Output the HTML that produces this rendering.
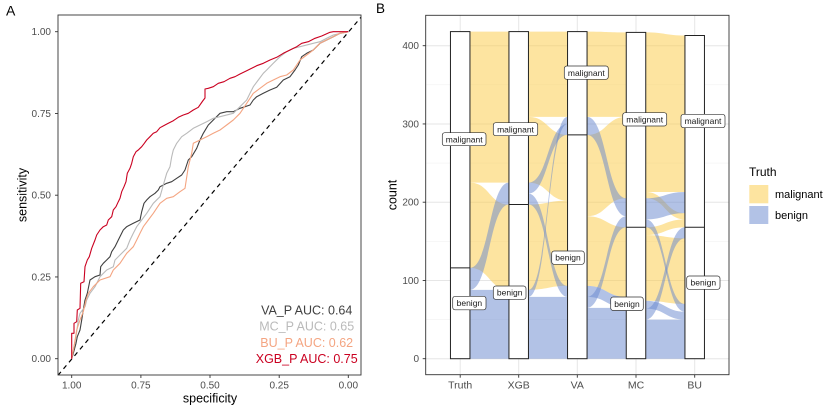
<!DOCTYPE html>
<html><head><meta charset="utf-8"><style>
html,body{margin:0;padding:0;background:#fff;}
svg{display:block;font-family:"Liberation Sans",Arial,sans-serif;}
</style></head><body>
<svg width="825" height="410" viewBox="0 0 825 410" xmlns="http://www.w3.org/2000/svg">
<rect width="825" height="410" fill="#fff"/>

<!-- ===== Panel A ===== -->
<text x="6" y="15.5" font-size="14" fill="#000">A</text>
<defs><clipPath id="cpA"><rect x="58" y="15" width="303" height="360"/></clipPath></defs>
<g clip-path="url(#cpA)" fill="none" stroke-width="1.1" stroke-linejoin="round">
<line x1="58" y1="375.3" x2="361" y2="17.2" stroke="#000" stroke-width="1.2" stroke-dasharray="4.5,4"/>
<polyline stroke="#404040" points="71.7,358.7 73.3,353.3 76,343.3 77.3,336.7 80,330 81.7,320 83.3,310 85,300 87.3,293.3 90,280 95,276.7 100,275 100.7,266.7 103.3,263.3 106.7,260 110,256.7 111.7,251.7 115,246.7 118.3,240 123.3,230 126.7,226.7 133.3,223.3 140,220 141.7,211.7 144,203.3 146.7,200 150,196.7 155,193.3 158.3,190 160,186.7 166.7,183.3 171.7,181.7 176.7,178.3 181.7,175 185,170 188.3,160 191.7,156.7 196.7,148.3 200,140 203.3,133.3 208.3,125 213.3,120 220,113.3 226.7,111.7 233.3,111.7 240,108.3 245,106.7 250,105 253.3,100 256.7,96.7 263.3,93.3 270,90 276.7,87.3 283.3,80 290,76.7 295,70 298.3,65 301.7,56.7 306.7,53.3 313.3,50 320,43.3 326.7,40 333.3,36.7 340,33.3 348.3,31.7"/>
<polyline stroke="#BABABA" points="71.7,358.7 73.3,350 76,336.7 78.3,320 80,313.3 85,306.7 86.7,300 90,293.3 95,286.7 100,276.7 106.7,270 113.3,266.7 115,260 120,255 126.7,248.3 130,240 133.3,233.3 136.7,226.7 141.7,220 146.7,213.3 153.3,203.3 160,196.7 163.3,185 166.7,173.3 170,166.7 171.7,156.7 173.3,150 176.7,143.3 181.7,136.7 186.7,133.3 193.3,128.3 200,125 206.7,121.7 213.3,118.3 220,116.7 233.3,113.3 240,106.7 246.7,100 250,93.3 253.3,86.7 258.3,80 263.3,73.3 266.7,70 273.3,63.3 280,56.7 286.7,51.7 293.3,48.3 300,46.7 313.3,43.3 320,41.7 326.7,38.3 333.3,35 348.3,31.7"/>
<polyline stroke="#F4A582" points="71.7,358.7 74,346.7 76.7,330 80,320 83.3,311.7 86,300 88.3,293.3 93.3,286.7 100,280 110,276.7 113.3,270 120,263.3 126.7,253.3 133.3,246.7 136.7,240 140,233.3 143.3,226.7 148.3,220 153.3,213.3 160,203.3 166.7,198.3 173.3,196.7 180,191.7 185,188.3 188.3,166.7 191.7,153.3 193.3,143.3 200,140 206.7,136.7 213.3,133.3 220,130 226.7,125 233.3,120 240,113.3 246.7,103.3 253.3,93.3 260,88.3 266.7,83.3 273.3,80 280,76.7 286.7,75 293.3,70 300,60 306.7,55 313.3,50 320,43.3 326.7,40 333.3,36.7 340,33.3 348.3,31.7"/>
<polyline stroke="#CA0020" points="71.7,358.7 71.7,333.3 74,333.3 74,323.3 76.7,321.7 77.3,310 80,308.3 80.7,283.3 84,281.7 85,266.7 87.3,260 89.3,256.7 91.7,248.3 95,240 96.7,235 100,230 103.3,226.7 106.7,225 108.3,220 111.7,216.7 113.3,210 116,206.7 118.3,201.7 120,198.3 121.7,191.7 124,186.7 126,181.7 127.3,173.3 130,168.3 131.7,163.3 133.3,156.7 136,151.7 138.3,150 140,148.3 141.7,146.7 144.3,143.3 146.7,140 150,136.7 153.3,133.3 156.7,131.7 160,127.7 165,125 168.3,123.3 173.3,120.7 178.3,117.3 183.3,115 188.3,113.3 193.3,110 198.3,107.3 202.7,101 205,98 205,89 208.3,88.3 213.3,86.7 218.3,83.3 224,81.7 230,78.3 235,76.7 240,74 246.7,70.7 251.7,68.3 256.7,65.7 263.3,63.3 270,60 276.7,57.3 283.3,53.3 290,50 296.7,46.7 301.7,43.3 308.3,41.7 315,38.3 321.7,36 330,32.3 333.3,31.7 348.3,31.7"/>
</g>
<rect x="58" y="15" width="303" height="360" fill="none" stroke="#333" stroke-width="0.9"/>
<!-- AUC text -->
<g font-size="12.5" text-anchor="middle">
<text x="306.7" y="314.5" fill="#404040">VA_P AUC: 0.64</text>
<text x="306.7" y="330.5" fill="#BABABA">MC_P AUC: 0.65</text>
<text x="306.7" y="346.8" fill="#F4A582">BU_P AUC: 0.62</text>
<text x="306.7" y="362.8" fill="#CA0020">XGB_P AUC: 0.75</text>
</g>
<!-- A axes -->
<g stroke="#333" stroke-width="0.9">
<line x1="55" y1="31.7" x2="58" y2="31.7"/><line x1="55" y1="113.45" x2="58" y2="113.45"/><line x1="55" y1="195.2" x2="58" y2="195.2"/><line x1="55" y1="276.95" x2="58" y2="276.95"/><line x1="55" y1="358.7" x2="58" y2="358.7"/>
<line x1="71.7" y1="375" x2="71.7" y2="378"/><line x1="140.9" y1="375" x2="140.9" y2="378"/><line x1="210" y1="375" x2="210" y2="378"/><line x1="279.2" y1="375" x2="279.2" y2="378"/><line x1="348.3" y1="375" x2="348.3" y2="378"/>
</g>
<g font-size="10" fill="#4D4D4D" text-anchor="end">
<text x="51" y="35.2">1.00</text><text x="51" y="116.9">0.75</text><text x="51" y="198.7">0.50</text><text x="51" y="280.4">0.25</text><text x="51" y="362.2">0.00</text>
</g>
<g font-size="10" fill="#4D4D4D" text-anchor="middle">
<text x="71.7" y="388.5">1.00</text><text x="140.9" y="388.5">0.75</text><text x="210" y="388.5">0.50</text><text x="279.2" y="388.5">0.25</text><text x="348.3" y="388.5">0.00</text>
</g>
<text x="210" y="402.5" font-size="12.5" text-anchor="middle" fill="#000">specificity</text>
<text x="26.5" y="195" font-size="12.5" text-anchor="middle" fill="#000" transform="rotate(-90 26.5 195)">sensitivity</text>

<!-- ===== Panel B ===== -->
<text x="376" y="13" font-size="13.5" fill="#000">B</text>
<!-- grid -->
<g stroke="#F2F2F2" stroke-width="0.6">
<line x1="425.7" x2="729" y1="319.6" y2="319.6"/><line x1="425.7" x2="729" y1="241.3" y2="241.3"/><line x1="425.7" x2="729" y1="163.1" y2="163.1"/><line x1="425.7" x2="729" y1="84.8" y2="84.8"/>
</g>
<g stroke="#E6E6E6" stroke-width="1">
<line x1="425.7" x2="729" y1="358.7" y2="358.7"/><line x1="425.7" x2="729" y1="280.45" y2="280.45"/><line x1="425.7" x2="729" y1="202.2" y2="202.2"/><line x1="425.7" x2="729" y1="123.95" y2="123.95"/><line x1="425.7" x2="729" y1="45.7" y2="45.7"/>
<line x1="460.2" x2="460.2" y1="15.3" y2="374.7"/><line x1="518.7" x2="518.7" y1="15.3" y2="374.7"/><line x1="577.3" x2="577.3" y1="15.3" y2="374.7"/><line x1="636" x2="636" y1="15.3" y2="374.7"/><line x1="694.7" x2="694.7" y1="15.3" y2="374.7"/>
</g>
<!-- flows in count space -->
<g transform="translate(0,358.7) scale(1,-0.7825)">
<g fill="#FBC941" fill-opacity="0.5">
<path d="M469.9,225 C489.4,225 489.4,197 508.9,197 L508.9,88 C489.4,88 489.4,116 469.9,116 Z"/>
<path d="M469.9,418 L508.9,418 L508.9,225 L469.9,225 Z"/>
<path d="M528.5,197 C548,197 548,202 567.5,202 L567.5,93 C548,93 548,88 528.5,88 Z"/>
<path d="M528.5,309 C548,309 548,286 567.5,286 L567.5,202 C548,202 548,225 528.5,225 Z"/>
<path d="M528.5,418 L567.5,418 L567.5,309 L528.5,309 Z"/>
<path d="M587,182 C606.6,182 606.6,168 626.2,168 L626.2,79 C606.6,79 606.6,93 587,93 Z"/>
<path d="M587,286 C606.6,286 606.6,309 626.2,309 L626.2,205 C606.6,205 606.6,182 587,182 Z"/>
<path d="M587,418 C606.6,418 606.6,417 626.2,417 L626.2,309 L587,309 Z"/>
<path d="M645.8,158 C665.4,158 665.4,154 685,154 L685,70 C665.4,70 665.4,74 645.8,74 Z"/>
<path d="M645.8,168 C665.4,168 665.4,178 685,178 L685,168 C665.4,168 665.4,158 645.8,158 Z"/>
<path d="M645.8,213 C665.4,213 665.4,186 685,186 L685,178 C665.4,178 665.4,205 645.8,205 Z"/>
<path d="M645.8,417 C665.4,417 665.4,413 685,413 L685,213 C665.4,213 665.4,213 645.8,213 Z"/>
</g>
<g fill="#6585CD" fill-opacity="0.5">
<path d="M469.9,88 L508.9,88 L508.9,0 L469.9,0 Z"/>
<path d="M469.9,116 C489.4,116 489.4,225 508.9,225 L508.9,197 C489.4,197 489.4,88 469.9,88 Z"/>
<path d="M528.5,79 L567.5,79 L567.5,0 L528.5,0 Z"/>
<path d="M528.5,88 C548,88 548,309 567.5,309 L567.5,300 C548,300 548,79 528.5,79 Z"/>
<path d="M528.5,211 C548,211 548,93 567.5,93 L567.5,79 C548,79 548,197 528.5,197 Z"/>
<path d="M528.5,225 C548,225 548,300 567.5,300 L567.5,286 C548,286 548,211 528.5,211 Z"/>
<path d="M587,65 L626.2,65 L626.2,0 L587,0 Z"/>
<path d="M587,79 C606.6,79 606.6,182 626.2,182 L626.2,168 C606.6,168 606.6,65 587,65 Z"/>
<path d="M587,93 C606.6,93 606.6,79 626.2,79 L626.2,65 C606.6,65 606.6,79 587,79 Z"/>
<path d="M587,309 C606.6,309 606.6,205 626.2,205 L626.2,182 C606.6,182 606.6,286 587,286 Z"/>
<path d="M645.8,50 L685,50 L685,0 L645.8,0 Z"/>
<path d="M645.8,64 C665.4,64 665.4,168 685,168 L685,154 C665.4,154 665.4,50 645.8,50 Z"/>
<path d="M645.8,74 C665.4,74 665.4,60 685,60 L685,50 C665.4,50 665.4,64 645.8,64 Z"/>
<path d="M645.8,178 C665.4,178 665.4,70 685,70 L685,60 C665.4,60 665.4,168 645.8,168 Z"/>
<path d="M645.8,205 C665.4,205 665.4,213 685,213 L685,186 C665.4,186 665.4,178 645.8,178 Z"/>
</g>
</g>
<!-- strata -->
<g fill="#fff" stroke="#222" stroke-width="1">
<rect x="450.45" y="31.6" width="19.5" height="327.1"/><line x1="450.45" x2="469.95" y1="267.9" y2="267.9"/>
<rect x="508.95" y="31.6" width="19.5" height="327.1"/><line x1="508.95" x2="528.45" y1="204.5" y2="204.5"/>
<rect x="567.55" y="31.6" width="19.5" height="327.1"/><line x1="567.55" x2="587.05" y1="134.9" y2="134.9"/>
<rect x="626.25" y="32.4" width="19.5" height="326.3"/><line x1="626.25" x2="645.75" y1="227.2" y2="227.2"/>
<rect x="684.95" y="35.5" width="19.5" height="323.2"/><line x1="684.95" x2="704.45" y1="227.2" y2="227.2"/>
</g>
<!-- labels -->
<g fill="#fff" stroke="#333" stroke-width="0.7">
<rect x="442.3" y="132.7" width="43.7" height="13" rx="2.5"/>
<rect x="452.7" y="296.3" width="33.3" height="13.5" rx="2.5"/>
<rect x="493.3" y="122.7" width="44.4" height="13" rx="2.5"/>
<rect x="493.3" y="286" width="32.7" height="13.3" rx="2.5"/>
<rect x="564.3" y="66" width="44" height="13.3" rx="2.5"/>
<rect x="551.7" y="251" width="32.6" height="13.3" rx="2.5"/>
<rect x="622.7" y="112.7" width="44" height="13.3" rx="2.5"/>
<rect x="610.7" y="297" width="32.6" height="13.5" rx="2.5"/>
<rect x="681" y="114.3" width="44" height="13.4" rx="2.5"/>
<rect x="686.7" y="276" width="33.3" height="13.3" rx="2.5"/>
</g>
<g font-size="8.5" fill="#1a1a1a" text-anchor="middle">
<text x="464.2" y="142.3">malignant</text>
<text x="469.4" y="306.1">benign</text>
<text x="515.5" y="132.3">malignant</text>
<text x="509.7" y="295.7">benign</text>
<text x="586.3" y="75.8">malignant</text>
<text x="568" y="260.7">benign</text>
<text x="644.7" y="122.5">malignant</text>
<text x="627" y="306.8">benign</text>
<text x="703" y="124.1">malignant</text>
<text x="703.3" y="285.7">benign</text>
</g>
<rect x="425.7" y="15.3" width="303.3" height="359.4" fill="none" stroke="#333" stroke-width="0.9"/>
<!-- B axes -->
<g stroke="#333" stroke-width="0.9">
<line x1="422.7" x2="425.7" y1="358.7" y2="358.7"/><line x1="422.7" x2="425.7" y1="280.45" y2="280.45"/><line x1="422.7" x2="425.7" y1="202.2" y2="202.2"/><line x1="422.7" x2="425.7" y1="123.95" y2="123.95"/><line x1="422.7" x2="425.7" y1="45.7" y2="45.7"/>
<line x1="460.2" x2="460.2" y1="374.7" y2="377.7"/><line x1="518.7" x2="518.7" y1="374.7" y2="377.7"/><line x1="577.3" x2="577.3" y1="374.7" y2="377.7"/><line x1="636" x2="636" y1="374.7" y2="377.7"/><line x1="694.7" x2="694.7" y1="374.7" y2="377.7"/>
</g>
<g font-size="10" fill="#4D4D4D" text-anchor="end">
<text x="419" y="362.2">0</text><text x="419" y="283.9">100</text><text x="419" y="205.7">200</text><text x="419" y="127.4">300</text><text x="419" y="49.2">400</text>
</g>
<g font-size="10.5" fill="#4D4D4D" text-anchor="middle">
<text x="460.2" y="388.7">Truth</text><text x="518.7" y="388.7">XGB</text><text x="577.3" y="388.7">VA</text><text x="636" y="388.7">MC</text><text x="694.7" y="388.7">BU</text>
</g>
<text x="396.5" y="195" font-size="12.5" text-anchor="middle" fill="#000" transform="rotate(-90 396.5 195)">count</text>
<!-- legend -->
<text x="749" y="176" font-size="12" fill="#000">Truth</text>
<rect x="749.3" y="185" width="19" height="18.3" fill="#FBC941" fill-opacity="0.5"/>
<rect x="749.3" y="206" width="19" height="18" fill="#6585CD" fill-opacity="0.5"/>
<text x="775" y="198" font-size="11" fill="#000">malignant</text>
<text x="775" y="219" font-size="11" fill="#000">benign</text>
</svg>
</body></html>
